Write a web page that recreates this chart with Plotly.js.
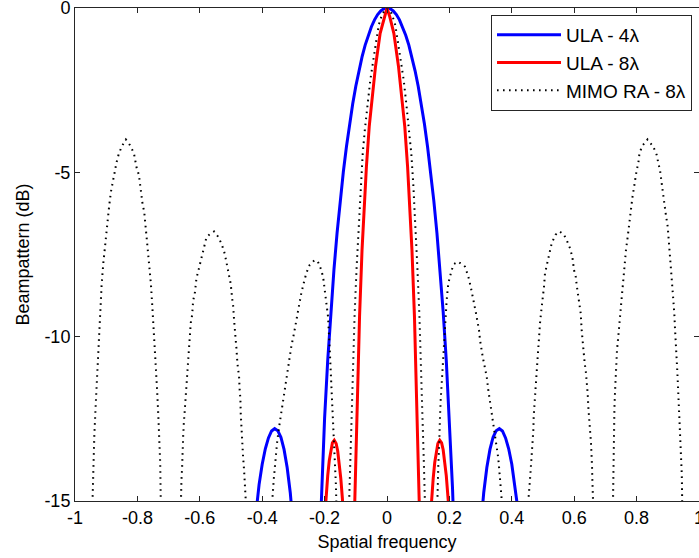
<!DOCTYPE html>
<html>
<head>
<meta charset="utf-8">
<script src="https://cdn.plot.ly/plotly-3.0.1.min.js"></script>
<style>html,body{margin:0;padding:0;background:#fff;}#chart{width:699px;height:558px;}</style>
</head>
<body>
<div id="chart"></div>
<script>
// Tick labels
const xTickVals = [-1, -0.8, -0.6, -0.4, -0.2, 0, 0.2, 0.4, 0.6, 0.8, 1];
const xTickText = ['-1', '-0.8', '-0.6', '-0.4', '-0.2', '0', '0.2', '0.4', '0.6', '0.8', '1'];
const yTickVals = [-15, -10, -5, 0];
const yTickText = ['-15', '-10', '-5', '0'];

const seriesNames = ['ULA - 4λ', 'ULA - 8λ', 'MIMO RA - 8λ'];

// ULA - 4λ (dB)
const ula4SideLx = [-0.43,-0.42,-0.41,-0.40,-0.39,-0.38,-0.37,-0.36,-0.35,-0.34,-0.33,-0.32,-0.31,-0.30];
const ula4SideLy = [-16.25,-15.28,-14.50,-13.88,-13.41,-13.08,-12.87,-12.80,-12.86,-13.06,-13.43,-13.98,-14.75,-15.82];
const ula4MainX = [-0.22,-0.21,-0.20,-0.19,-0.18,-0.17,-0.16,-0.15,-0.14,-0.13,-0.12,-0.11,-0.10,-0.09,-0.08,-0.07,-0.06,-0.05,-0.04,-0.03,-0.02,-0.01,0,
  0.01,0.02,0.03,0.04,0.05,0.06,0.07,0.08,0.09,0.10,0.11,0.12,0.13,0.14,0.15,0.16,0.17,0.18,0.19,0.20,0.21,0.22];
const ula4MainY = [-17.34,-14.61,-12.48,-10.72,-9.24,-7.96,-6.84,-5.86,-4.99,-4.22,-3.53,-2.92,-2.38,-1.91,-1.49,-1.13,-0.83,-0.57,-0.36,-0.20,-0.09,-0.02,0,
  -0.02,-0.09,-0.20,-0.36,-0.57,-0.83,-1.13,-1.49,-1.91,-2.38,-2.92,-3.53,-4.22,-4.99,-5.86,-6.84,-7.96,-9.24,-10.72,-12.48,-14.61,-17.34];
const ula4SideRx = [0.30,0.31,0.32,0.33,0.34,0.35,0.36,0.37,0.38,0.39,0.40,0.41,0.42,0.43];
const ula4SideRy = [-15.82,-14.75,-13.98,-13.43,-13.06,-12.86,-12.80,-12.87,-13.08,-13.41,-13.88,-14.50,-15.28,-16.25];

// ULA - 8λ
const ula8SideLx = [-0.201,-0.196,-0.190,-0.185,-0.180,-0.175,-0.169,-0.163,-0.158,-0.153,-0.148,-0.143,-0.138];
const ula8SideLy = [-15.69,-14.95,-14.23,-13.77,-13.44,-13.23,-13.15,-13.25,-13.48,-13.83,-14.32,-14.92,-15.66];
const ula8MainX = [-0.110,-0.103,-0.100,-0.094,-0.088,-0.080,-0.072,-0.066,-0.057,-0.048,-0.037,-0.022,-0.009,0,
  0.009,0.022,0.037,0.048,0.057,0.066,0.072,0.080,0.088,0.094,0.100,0.103,0.110];
const ula8MainY = [-17.5,-14.97,-13.45,-11.42,-9.39,-7.36,-5.84,-4.83,-3.61,-2.80,-1.79,-0.77,-0.27,0,
  -0.27,-0.77,-1.79,-2.80,-3.61,-4.83,-5.84,-7.36,-9.39,-11.42,-13.45,-14.97,-17.5];
const ula8SideRx = [0.138,0.143,0.148,0.153,0.158,0.163,0.169,0.175,0.180,0.185,0.190,0.196,0.201];
const ula8SideRy = [-15.66,-14.92,-14.32,-13.83,-13.48,-13.25,-13.15,-13.23,-13.44,-13.77,-14.23,-14.95,-15.69];

// MIMO RA - 8λ, lobe by lobe
const mimoL1x = [-0.9455,-0.9435,-0.9413,-0.9381,-0.9339,-0.9296,-0.9253,-0.9200,-0.9147,-0.9093,-0.9029,-0.8965,-0.8901,-0.8848,-0.8795,-0.8720,-0.8667,-0.8603,-0.8507,-0.8370,-0.8240,-0.8112,-0.8027,-0.7952,-0.7899,-0.7835,-0.7781,-0.7739,-0.7696,-0.7653,-0.7600,-0.7568,-0.7525,-0.7483,-0.7440,-0.7397,-0.7365,-0.7323,-0.7291,-0.7269,-0.7259,-0.7248,-0.7240];
const mimoL1y = [-15.6,-14.77,-13.85,-13.04,-12.13,-11.22,-10.20,-9.29,-8.43,-7.77,-7.11,-6.45,-5.99,-5.59,-5.33,-4.91,-4.69,-4.46,-4.22,-4.00,-4.17,-4.42,-4.85,-5.08,-5.52,-5.96,-6.20,-6.62,-7.06,-7.49,-7.97,-8.38,-9.04,-9.69,-10.35,-11.01,-11.67,-12.53,-13.19,-13.85,-14.51,-14.97,-15.6];
const mimoL2x = [-0.6620,-0.6608,-0.6587,-0.6565,-0.6555,-0.6533,-0.6512,-0.6480,-0.6459,-0.6427,-0.6405,-0.6373,-0.6352,-0.6320,-0.6288,-0.6245,-0.6213,-0.6160,-0.6107,-0.6053,-0.6000,-0.5947,-0.5893,-0.5840,-0.5787,-0.5660,-0.5540,-0.5420,-0.5300,-0.5200,-0.5147,-0.5093,-0.5040,-0.5008,-0.4965,-0.4933,-0.4901,-0.4880,-0.4848,-0.4827,-0.4795,-0.4773,-0.4741,-0.4720,-0.4699,-0.4688,-0.4667,-0.4645,-0.4613,-0.4581,-0.4560,-0.4539,-0.4528,-0.4515];
const mimoL2y = [-15.6,-14.82,-14.36,-13.95,-13.50,-13.04,-12.64,-12.21,-11.77,-11.32,-10.91,-10.66,-10.23,-10.00,-9.57,-9.34,-8.90,-8.68,-8.22,-8.02,-7.82,-7.59,-7.36,-7.14,-6.98,-6.86,-6.80,-6.95,-7.18,-7.48,-7.72,-7.95,-8.17,-8.40,-8.83,-9.04,-9.49,-9.69,-10.10,-10.35,-10.81,-11.01,-11.22,-11.67,-11.87,-12.33,-12.79,-13.19,-13.65,-14.06,-14.31,-14.76,-14.97,-15.6];
const mimoL3x = [-0.3700,-0.3675,-0.3622,-0.3578,-0.3525,-0.3472,-0.3408,-0.3355,-0.3280,-0.3205,-0.3141,-0.3067,-0.2981,-0.2907,-0.2821,-0.2747,-0.2672,-0.2587,-0.2480,-0.2320,-0.2213,-0.2107,-0.2045,-0.1970,-0.1890,-0.1835,-0.1780,-0.1730,-0.1680,-0.1640,-0.1625,-0.1612];
const mimoL3y = [-15.6,-14.97,-14.26,-13.75,-13.24,-12.84,-12.43,-12.03,-11.52,-11.11,-10.71,-10.30,-9.90,-9.49,-9.09,-8.68,-8.38,-8.07,-7.82,-7.67,-7.72,-7.97,-8.20,-8.88,-9.39,-10.40,-11.42,-12.43,-13.45,-14.46,-14.97,-15.6];
const mimoMainX = [-0.1230,-0.1210,-0.1184,-0.1143,-0.1095,-0.1040,-0.0975,-0.0935,-0.0894,-0.0840,-0.0776,-0.0710,-0.0660,-0.0606,-0.0535,-0.0413,-0.0266,-0.0150,0,
  0.0150,0.0266,0.0413,0.0535,0.0606,0.0660,0.0710,0.0776,0.0840,0.0894,0.0935,0.0975,0.1040,0.1095,0.1143,0.1184,0.1210,0.1230];
const mimoMainY = [-15.6,-14.87,-13.95,-12.43,-10.91,-9.39,-7.90,-7.10,-6.30,-5.33,-4.40,-3.70,-3.26,-2.80,-2.19,-1.43,-0.52,-0.17,0,
  -0.17,-0.52,-1.43,-2.19,-2.80,-3.26,-3.70,-4.40,-5.33,-6.30,-7.10,-7.90,-9.39,-10.91,-12.43,-13.95,-14.87,-15.6];
const mimoL4x = [0.1600,0.1612,0.1625,0.1644,0.1667,0.1676,0.1699,0.1721,0.1753,0.1785,0.1804,0.1837,0.1881,0.1913,0.1965,0.2019,0.2074,0.2147,0.2285,0.2500,0.2606,0.2683,0.2734,0.2788,0.2843,0.2894,0.2949,0.2981,0.3035,0.3067,0.3109,0.3163,0.3196,0.3247,0.3279,0.3324,0.3356,0.3407,0.3462,0.3494,0.3535,0.3567,0.3599,0.3622,0.3654,0.3676,0.3690];
const mimoL4y = [-15.6,-14.87,-14.46,-13.95,-13.45,-12.94,-12.43,-11.93,-11.42,-10.91,-10.40,-9.90,-9.39,-8.88,-8.38,-8.15,-7.97,-7.79,-7.72,-7.87,-8.17,-8.48,-8.78,-8.98,-9.24,-9.49,-9.80,-10.10,-10.35,-10.61,-10.81,-11.01,-11.22,-11.62,-11.83,-12.13,-12.33,-12.74,-13.04,-13.24,-13.45,-13.70,-14.06,-14.36,-14.66,-14.97,-15.6];
const mimoL5x = [0.4530,0.4541,0.4583,0.4615,0.4647,0.4669,0.4690,0.4701,0.4722,0.4744,0.4776,0.4798,0.4818,0.4849,0.4872,0.4904,0.4936,0.4990,0.5032,0.5064,0.5118,0.5170,0.5279,0.5400,0.5530,0.5660,0.5759,0.5865,0.5940,0.5994,0.6048,0.6080,0.6133,0.6165,0.6208,0.6240,0.6272,0.6304,0.6336,0.6368,0.6400,0.6432,0.6453,0.6485,0.6506,0.6538,0.6560,0.6571,0.6581,0.6592,0.6613,0.6625];
const mimoL5y = [-15.6,-14.87,-14.36,-13.95,-13.65,-13.24,-12.84,-12.43,-12.13,-11.72,-11.32,-11.01,-10.61,-10.20,-9.80,-9.59,-9.29,-8.88,-8.48,-8.07,-7.82,-7.57,-7.16,-6.90,-6.80,-6.88,-7.06,-7.31,-7.57,-7.97,-8.17,-8.43,-8.78,-9.04,-9.29,-9.80,-10.20,-10.40,-10.81,-11.01,-11.27,-11.72,-12.13,-12.43,-12.84,-13.24,-13.55,-13.95,-14.36,-14.66,-14.82,-15.6];
const mimoL6x = [0.7235,0.7244,0.7255,0.7265,0.7275,0.7290,0.7305,0.7320,0.7340,0.7372,0.7393,0.7436,0.7468,0.7500,0.7532,0.7575,0.7607,0.7660,0.7715,0.7747,0.7788,0.7821,0.7862,0.7895,0.7927,0.7970,0.8003,0.8055,0.8087,0.8163,0.8350,0.8536,0.8644,0.8696,0.8750,0.8804,0.8856,0.8932,0.8997,0.9038,0.9071,0.9103,0.9145,0.9177,0.9209,0.9231,0.9263,0.9285,0.9305,0.9327,0.9349,0.9369,0.9391,0.9413,0.9433,0.9446,0.9455,0.9460,0.9468];
const mimoL6y = [-15.6,-14.77,-13.85,-13.24,-12.64,-12.18,-11.77,-11.32,-10.81,-10.40,-10.20,-9.75,-9.29,-8.88,-8.63,-8.22,-7.77,-7.36,-6.96,-6.70,-6.25,-6.04,-5.79,-5.59,-5.38,-5.13,-4.93,-4.72,-4.47,-4.22,-4.00,-4.22,-4.47,-4.72,-4.93,-5.33,-5.79,-6.25,-6.65,-7.11,-7.57,-7.97,-8.43,-8.88,-9.29,-9.75,-10.20,-10.61,-11.06,-11.52,-11.93,-12.43,-12.84,-13.24,-13.70,-14.16,-14.56,-14.90,-15.6];

function joinSegments(parts) {
  const out = [];
  parts.forEach((p, i) => { if (i > 0) out.push(null); out.push(...p); });
  return out;
}

const ula4X = joinSegments([ula4SideLx, ula4MainX, ula4SideRx]);
const ula4Y = joinSegments([ula4SideLy, ula4MainY, ula4SideRy]);
const ula8X = joinSegments([ula8SideLx, ula8MainX, ula8SideRx]);
const ula8Y = joinSegments([ula8SideLy, ula8MainY, ula8SideRy]);
const mimoX = joinSegments([mimoL1x, mimoL2x, mimoL3x, mimoMainX, mimoL4x, mimoL5x, mimoL6x]);
const mimoY = joinSegments([mimoL1y, mimoL2y, mimoL3y, mimoMainY, mimoL4y, mimoL5y, mimoL6y]);

const FONT = 'Liberation Sans, Arial, Helvetica, sans-serif';

const traces = [
  {x: ula4X, y: ula4Y, name: seriesNames[0], type: 'scatter', mode: 'lines', legendgroup: 'a',
   line: {color: '#0000ff', width: 3}, connectgaps: false, hoverinfo: 'skip'},
  {x: ula8X, y: ula8Y, name: seriesNames[1], type: 'scatter', mode: 'lines', legendgroup: 'b',
   line: {color: '#ff0000', width: 3}, connectgaps: false, hoverinfo: 'skip'},
  {x: mimoX, y: mimoY, name: seriesNames[2], type: 'scatter', mode: 'lines', legendgroup: 'c',
   line: {color: '#000000', width: 2, dash: '1.6px,4.4px'}, connectgaps: false, hoverinfo: 'skip'}
];

const axisCommon = {
  showline: true, linecolor: '#262626', linewidth: 1, mirror: 'ticks',
  ticks: 'inside', ticklen: 5, tickcolor: '#262626', tickwidth: 1,
  showgrid: false, zeroline: false, fixedrange: true,
  ticklabeloverflow: 'allow',
  tickfont: {family: FONT, size: 18, color: '#000'}
};

const layout = {
  width: 699, height: 558,
  margin: {l: 75, r: 0, t: 8, b: 57},
  paper_bgcolor: '#ffffff', plot_bgcolor: '#ffffff',
  font: {family: FONT, size: 18, color: '#000'},
  showlegend: true,
  xaxis: Object.assign({}, axisCommon, {
    range: [-1, 1], tickmode: 'array', tickvals: xTickVals, ticktext: xTickText,
    title: {text: 'Spatial frequency', font: {family: FONT, size: 18, color: '#000'}, standoff: 8}
  }),
  yaxis: Object.assign({}, axisCommon, {
    range: [-15, 0], tickmode: 'array', tickvals: yTickVals, ticktext: yTickText,
    title: {text: 'Beampattern (dB)', font: {family: FONT, size: 18, color: '#000'}, standoff: 10}
  }),
  legend: {
    x: 0.9888, xanchor: 'right', y: 0.9858, yanchor: 'top',
    bgcolor: '#ffffff', bordercolor: '#262626', borderwidth: 1,
    font: {family: FONT, size: 19, color: '#000'},
    traceorder: 'grouped', tracegroupgap: 0, itemwidth: 64
  }
};

Plotly.newPlot('chart', traces, layout, {displayModeBar: false, staticPlot: true});
</script>
</body>
</html>
